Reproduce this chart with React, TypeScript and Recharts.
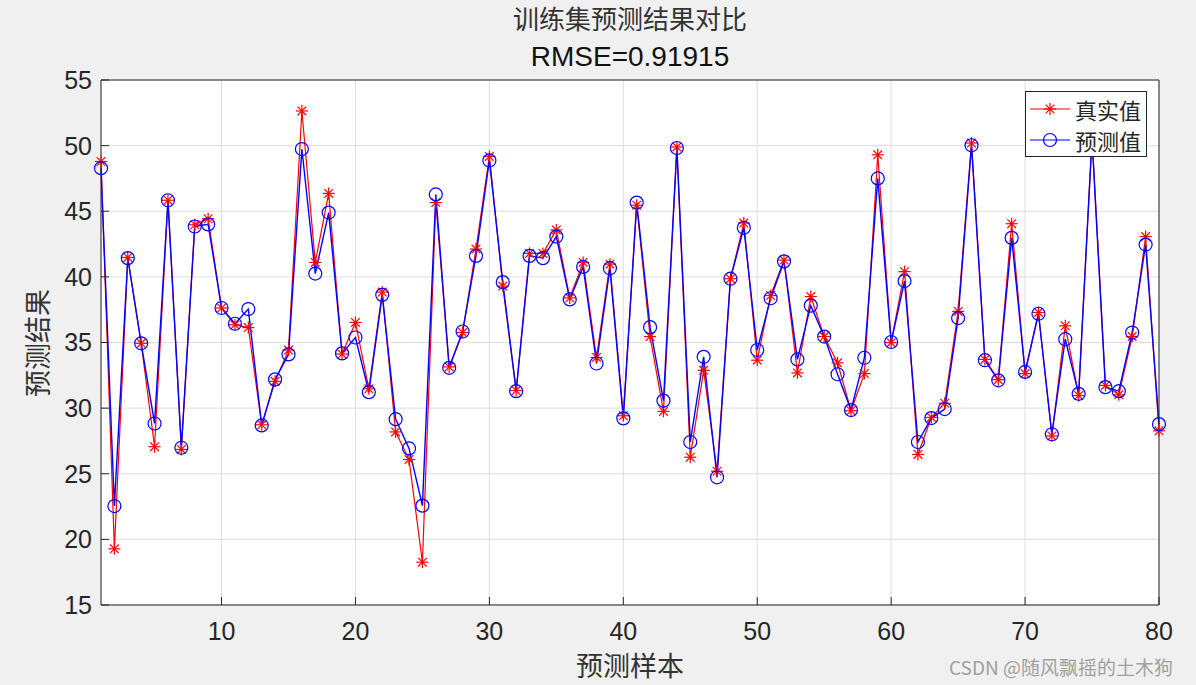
import React from 'react';
import { LineChart, Line, XAxis, YAxis, CartesianGrid, Legend } from 'recharts';

const samples = [
  1, 2, 3, 4, 5, 6, 7, 8, 9, 10,
  11, 12, 13, 14, 15, 16, 17, 18, 19, 20,
  21, 22, 23, 24, 25, 26, 27, 28, 29, 30,
  31, 32, 33, 34, 35, 36, 37, 38, 39, 40,
  41, 42, 43, 44, 45, 46, 47, 48, 49, 50,
  51, 52, 53, 54, 55, 56, 57, 58, 59, 60,
  61, 62, 63, 64, 65, 66, 67, 68, 69, 70,
  71, 72, 73, 74, 75, 76, 77, 78, 79, 80,
];

const realValues = [
  48.79, 19.28, 41.48, 34.94, 27.06, 45.84, 26.85, 43.97, 44.43, 37.63,
  36.35, 36.14, 28.73, 32.04, 34.42, 52.64, 41.1, 46.36, 34.12, 36.53,
  31.47, 38.84, 28.19, 26.08, 18.26, 45.66, 33.14, 35.76, 42.12, 49.18,
  39.3, 31.34, 41.79, 41.79, 43.58, 38.4, 41.1, 33.86, 40.97, 29.42,
  45.46, 35.45, 29.75, 49.9, 26.26, 32.88, 25.19, 39.86, 44.1, 33.65,
  38.58, 41.28, 32.68, 38.5, 35.45, 33.45, 29.8, 32.63, 49.3, 34.99,
  40.4, 26.47, 29.29, 30.37, 37.37, 50.2, 33.71, 32.17, 44.05, 32.63,
  37.29, 27.88, 36.27, 30.96, 50.7, 31.73, 31.01, 35.45, 43.07, 28.27,
];

const predValues = [
  48.28, 22.54, 41.43, 34.94, 28.83, 45.84, 26.98, 43.84, 44.0, 37.63,
  36.43, 37.55, 28.68, 32.19, 34.09, 49.74, 40.25, 44.9, 34.17, 35.38,
  31.22, 38.63, 29.16, 26.93, 22.57, 46.28, 33.07, 35.84, 41.6, 48.87,
  39.6, 31.29, 41.6, 41.43, 43.07, 38.28, 40.76, 33.4, 40.66, 29.22,
  45.66, 36.17, 30.57, 49.82, 27.42, 33.91, 24.73, 39.86, 43.74, 34.43,
  38.37, 41.18, 33.71, 37.81, 35.45, 32.58, 29.85, 33.84, 47.5, 35.04,
  39.68, 27.42, 29.24, 29.93, 36.86, 50.03, 33.65, 32.12, 42.97, 32.76,
  37.19, 28.01, 35.25, 31.09, 50.5, 31.6, 31.29, 35.76, 42.46, 28.78,
];

const xTicks = [10, 20, 30, 40, 50, 60, 70, 80];
const yTicks = [15, 20, 25, 30, 35, 40, 45, 50, 55];

const data = samples.map((s, i) => ({ sample: s, real: realValues[i], pred: predValues[i] }));

const AXIS = '#262626';
const CJK = '"Noto Sans CJK SC", "Noto Sans", sans-serif';
const LATIN = '"Liberation Sans", Arial, Helvetica, sans-serif';

function StarMark({ cx, cy, r = 6 }: { cx: number; cy: number; r?: number }) {
  const d = r * 0.72;
  return (
    <g stroke="#ff0000" strokeWidth={1.2}>
      <line x1={cx - r} y1={cy} x2={cx + r} y2={cy} />
      <line x1={cx} y1={cy - r} x2={cx} y2={cy + r} />
      <line x1={cx - d} y1={cy - d} x2={cx + d} y2={cy + d} />
      <line x1={cx - d} y1={cy + d} x2={cx + d} y2={cy - d} />
    </g>
  );
}

function starDot(props: any) {
  const { cx, cy, index } = props;
  if (cx == null || cy == null) return <g key={`s${index}`} />;
  return (
    <g key={`s${index}`}>
      <StarMark cx={cx} cy={cy} />
    </g>
  );
}

function circleDot(props: any) {
  const { cx, cy, index } = props;
  if (cx == null || cy == null) return <g key={`c${index}`} />;
  return <circle key={`c${index}`} cx={cx} cy={cy} r={6.5} fill="none" stroke="#0000ff" strokeWidth={1.2} />;
}

function LegendBox(props: any) {
  const payload = props.payload || [];
  return (
    <div
      style={{
        border: `1px solid ${AXIS}`,
        background: '#fff',
        width: 120,
        height: 63,
        boxSizing: 'content-box',
        paddingTop: 1,
      }}
    >
      {payload.map((entry: any) => (
        <div key={entry.dataKey} style={{ display: 'flex', alignItems: 'center', height: 31 }}>
          <svg width={46} height={20} style={{ marginLeft: 2 }}>
            <line x1={2} y1={10} x2={42} y2={10} stroke={entry.color} strokeWidth={1.2} />
            {entry.dataKey === 'real' ? (
              <StarMark cx={22} cy={10} />
            ) : (
              <circle cx={22} cy={10} r={6.5} fill="none" stroke="#0000ff" strokeWidth={1.2} />
            )}
          </svg>
          <span style={{ fontFamily: CJK, fontSize: 22, color: AXIS, marginLeft: 1, lineHeight: '22px' }}>
            {entry.value}
          </span>
        </div>
      ))}
    </div>
  );
}

export default function App() {
  return (
    <div
      style={{
        position: 'absolute',
        left: 0,
        top: 0,
        width: 1196,
        height: 685,
        background: '#f0f0f0',
        overflow: 'hidden',
      }}
    >
      <div
        style={{
          position: 'absolute',
          left: 0,
          width: 1260,
          top: 3,
          textAlign: 'center',
          fontFamily: CJK,
          fontSize: 26,
          color: '#333',
          lineHeight: '30px',
        }}
      >
        训练集预测结果对比
      </div>
      <div
        style={{
          position: 'absolute',
          left: 0,
          width: 1260,
          top: 40,
          textAlign: 'center',
          fontFamily: LATIN,
          fontSize: 28,
          color: '#111',
          lineHeight: '34px',
        }}
      >
        RMSE=0.91915
      </div>

      <LineChart
        width={1196}
        height={685}
        data={data}
        margin={{ top: 79, right: 36, bottom: 0, left: 0 }}
        style={{ position: 'absolute', left: 0, top: 0 }}
      >
        <CartesianGrid stroke="#dedede" strokeWidth={1} fill="#ffffff" fillOpacity={1} />
        <XAxis
          dataKey="sample"
          type="number"
          domain={[1, 80]}
          ticks={xTicks}
          height={80}
          tickSize={-8}
          tickMargin={25}
          stroke={AXIS}
          tick={{ fill: AXIS, fontSize: 25, fontFamily: LATIN }}
          interval={0}
        />
        <XAxis
          xAxisId="top"
          orientation="top"
          dataKey="sample"
          type="number"
          domain={[1, 80]}
          ticks={xTicks}
          height={1}
          tickSize={-8}
          stroke={AXIS}
          tick={false}
          interval={0}
        />
        <YAxis
          type="number"
          domain={[15, 55]}
          ticks={yTicks}
          width={101}
          tickSize={-8}
          tickMargin={17}
          stroke={AXIS}
          tick={{ fill: AXIS, fontSize: 25, fontFamily: LATIN }}
          interval={0}
        />
        <YAxis
          yAxisId="right"
          orientation="right"
          type="number"
          domain={[15, 55]}
          ticks={yTicks}
          width={1}
          tickSize={-8}
          stroke={AXIS}
          tick={false}
          interval={0}
        />
        <Legend
          layout="vertical"
          align="center"
          verticalAlign="middle"
          content={LegendBox}
          wrapperStyle={{ position: 'absolute', left: 1025, top: 91, width: 'auto', height: 'auto' }}
        />
        <Line
          type="linear"
          dataKey="real"
          name="真实值"
          stroke="#ff0000"
          strokeWidth={1.2}
          dot={starDot}
          activeDot={false}
          isAnimationActive={false}
        />
        <Line
          type="linear"
          dataKey="pred"
          name="预测值"
          stroke="#0000ff"
          strokeWidth={1.4}
          dot={circleDot}
          activeDot={false}
          isAnimationActive={false}
        />
      </LineChart>

      <div
        style={{
          position: 'absolute',
          left: 0,
          width: 1260,
          top: 648,
          textAlign: 'center',
          fontFamily: CJK,
          fontSize: 27,
          color: '#333',
          lineHeight: '34px',
        }}
      >
        预测样本
      </div>
      <div
        style={{
          position: 'absolute',
          left: 37 - 80,
          top: 343 - 17,
          width: 160,
          height: 34,
          textAlign: 'center',
          fontFamily: CJK,
          fontSize: 27,
          color: '#333',
          lineHeight: '34px',
          transform: 'rotate(-90deg)',
        }}
      >
        预测结果
      </div>
      <div
        style={{
          position: 'absolute',
          left: 949,
          top: 654,
          fontFamily: CJK,
          fontSize: 19,
          color: '#a0a0a0',
          lineHeight: '26px',
          whiteSpace: 'nowrap',
        }}
      >
        CSDN @随风飘摇的土木狗
      </div>
    </div>
  );
}
